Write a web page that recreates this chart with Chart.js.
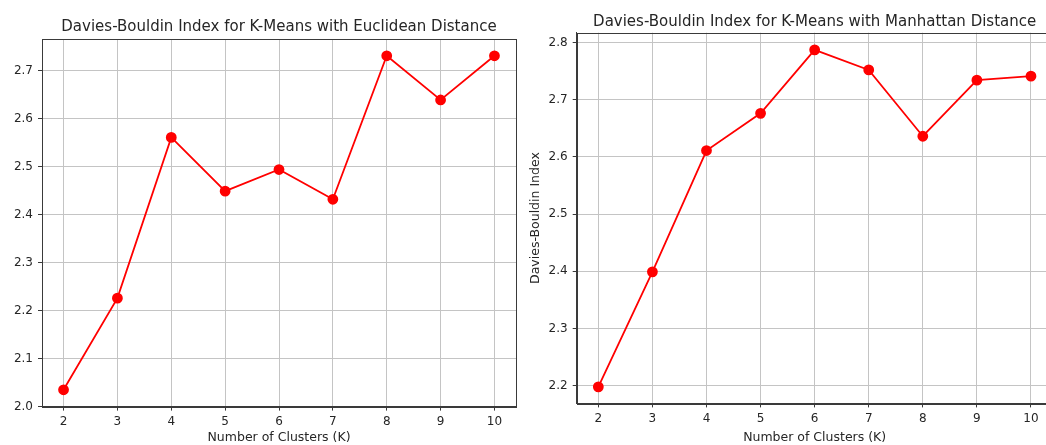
<!DOCTYPE html>
<html>
<head>
<meta charset="utf-8">
<script src="https://cdn.jsdelivr.net/npm/chart.js@4.4.1/dist/chart.umd.min.js"></script>
<style>
  html, body { margin: 0; padding: 0; background: #fff; overflow: hidden; width: 1046px; height: 445px; }
  .box { position: absolute; top: 0; height: 445px; }
  #left { left: 0; width: 530px; }
  #right { left: 520px; width: 550px; }
</style>
</head>
<body>
<div class="box" id="left"><canvas id="eucChart" width="530" height="445"></canvas></div>
<div class="box" id="right"><canvas id="manChart" width="550" height="445"></canvas></div>
<script>
// Number of clusters tried
const clusters = [2, 3, 4, 5, 6, 7, 8, 9, 10];

// Davies-Bouldin index per K
const dbEuclidean = [2.035, 2.226, 2.561, 2.449, 2.494, 2.432, 2.731, 2.639, 2.731];
const dbManhattan = [2.198, 2.399, 2.611, 2.676, 2.787, 2.752, 2.636, 2.734, 2.741];

// Tick values
const xTicks = [2, 3, 4, 5, 6, 7, 8, 9, 10];
const yTicksEuc = [2.0, 2.1, 2.2, 2.3, 2.4, 2.5, 2.6, 2.7];
const yTicksMan = [2.2, 2.3, 2.4, 2.5, 2.6, 2.7, 2.8];

// Axis ranges
const xRange = [1.6, 10.4];
const yRangeEuc = [2.0, 2.766];
const yRangeMan = [2.169, 2.817];

const FONT = 'DejaVu Sans';
const TEXT = '#262626';
const SPINE = '#3a3a3a';
const GRID = '#c4c4c4';

Chart.defaults.font.family = FONT;
Chart.defaults.color = TEXT;

// title centred on plot area + full box spines
const framePlugin = {
    id: 'frame',
    afterDraw(chart, args, opts) {
        const { ctx, chartArea: a } = chart;
        ctx.save();
        ctx.strokeStyle = SPINE;
        ctx.lineWidth = 1;
        ctx.strokeRect(Math.round(a.left) + 0.5, Math.round(a.top) + 0.5,
            Math.round(a.right - a.left), Math.round(a.bottom - a.top));
        ctx.fillStyle = TEXT;
        ctx.font = `${opts.size}px ${FONT}`;
        ctx.textAlign = 'center';
        ctx.textBaseline = 'alphabetic';
        ctx.fillText(opts.text, (a.left + a.right) / 2, opts.y);
        ctx.restore();
    }
};

function makeChart(id, cfg) {
    const points = clusters.map((k, i) => ({ x: k, y: cfg.values[i] }));
    return new Chart(document.getElementById(id), {
        type: 'line',
        data: {
            datasets: [{
                data: points,
                borderColor: '#ff0000',
                backgroundColor: '#ff0000',
                pointBackgroundColor: '#ff0000',
                pointBorderColor: '#ff0000',
                borderWidth: 1.8,
                pointRadius: 4.5,
                tension: 0
            }]
        },
        options: {
            responsive: false,
            animation: false,
            layout: { padding: cfg.padding },
            plugins: {
                legend: { display: false },
                tooltip: { enabled: false },
                frame: { text: cfg.title, y: cfg.titleY, size: 15 }
            },
            scales: {
                x: {
                    type: 'linear',
                    min: xRange[0],
                    max: xRange[1],
                    afterBuildTicks: s => { s.ticks = xTicks.map(v => ({ value: v })); },
                    afterFit: s => { s.height = cfg.xAxisH; },
                    grid: { color: GRID, lineWidth: 1, tickColor: SPINE, tickLength: 4 },
                    border: { color: SPINE, width: 1 },
                    ticks: { font: { size: 12 }, color: TEXT, padding: 4, maxRotation: 0 },
                    title: { display: true, text: 'Number of Clusters (K)', font: { size: 12.5 }, color: TEXT, padding: { top: 0, bottom: 0 } }
                },
                y: {
                    min: cfg.yRange[0],
                    max: cfg.yRange[1],
                    afterBuildTicks: s => { s.ticks = cfg.yTicks.map(v => ({ value: v })); },
                    afterFit: s => { s.width = cfg.yAxisW; },
                    grid: { color: GRID, lineWidth: 1, tickColor: SPINE, tickLength: 4 },
                    border: { color: SPINE, width: 1 },
                    ticks: { font: { size: 12 }, color: TEXT, padding: 5, callback: v => v.toFixed(1) },
                    title: {
                        display: !!cfg.yTitle,
                        text: cfg.yTitle || '',
                        font: { size: 12.5 },
                        color: TEXT,
                        padding: { top: 8, bottom: 0 }
                    }
                }
            }
        },
        plugins: [framePlugin]
    });
}

makeChart('eucChart', {
    values: dbEuclidean,
    title: 'Davies-Bouldin Index for K-Means with Euclidean Distance',
    titleY: 31,
    yRange: yRangeEuc,
    yTicks: yTicksEuc,
    padding: { left: 0, right: 14, top: 39, bottom: 0 },
    yAxisW: 42,
    xAxisH: 38.4
});

makeChart('manChart', {
    values: dbManhattan,
    title: 'Davies-Bouldin Index for K-Means with Manhattan Distance',
    titleY: 26,
    yRange: yRangeMan,
    yTicks: yTicksMan,
    yTitle: 'Davies-Bouldin Index',
    padding: { left: 0, right: 17.4, top: 32.7, bottom: 0 },
    yAxisW: 56.7,
    xAxisH: 41.6
});
</script>
</body>
</html>
